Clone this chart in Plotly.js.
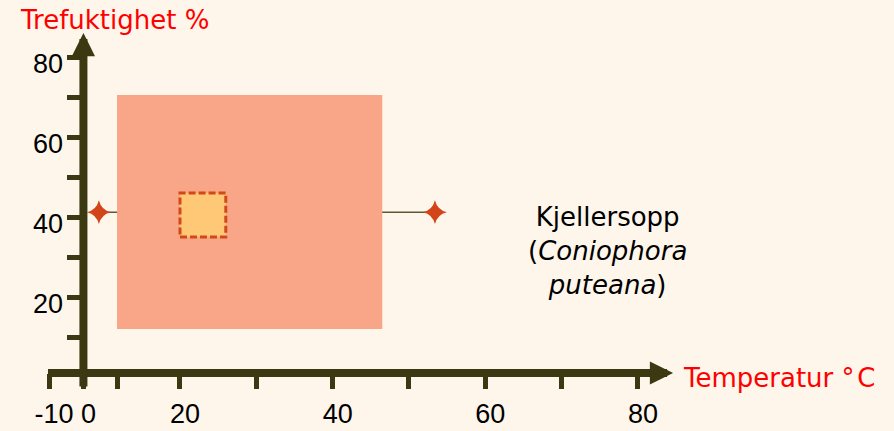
<!DOCTYPE html>
<html>
<head>
<meta charset="utf-8">
<script src="https://cdn.plot.ly/plotly-3.0.1.min.js"></script>
<style>
  html, body { margin: 0; padding: 0; background: #FEF6EB; }
  #chart { width: 894px; height: 431px; }
</style>
</head>
<body>
<div id="chart"></div>
<script>
// ---------- data ----------
const xTickTemps = [-10, 0, 10, 20, 30, 40, 50, 60, 70, 80];
const xTickText  = ['-10', '0', '', '20', '', '40', '', '60', '', '80'];
const yTickVals  = [10, 20, 30, 40, 50, 60, 70, 80];
const yTickText  = ['', '20', '', '40', '', '60', '', '80'];

const growthTemp  = [10, 46.5];   // outer (salmon) area, °C
const growthMoist = [12, 70.5];   // outer area, %
const optimumTemp  = [20, 26];    // inner (dashed) square, °C
const optimumMoist = [35, 46];    // inner square, %
const limitTemp  = [4.6, 53.4];   // star markers, °C
const limitMoist = [41.2, 41.2];  // star markers, %

const speciesLabel = 'Kjellersopp<br>(<i>Coniophora</i><br><i>puteana</i>)';
const xTitle = 'Temperatur °\u200aC';
const yTitle = 'Trefuktighet %';

// ---------- schematic axis scale (the drawing compresses the part below 20 °C) ----------
const xAxisSpots = [2.84, 7.35, 11.75, 20, 30, 40, 50, 60, 70, 80];
function tx(t) {
  const a = xTickTemps, b = xAxisSpots;
  if (t <= a[0]) return b[0] + (t - a[0]) * (b[1] - b[0]) / (a[1] - a[0]);
  for (let i = 0; i < a.length - 1; i++) {
    if (t <= a[i + 1]) return b[i] + (t - a[i]) * (b[i + 1] - b[i]) / (a[i + 1] - a[i]);
  }
  const n = a.length - 1;
  return b[n] + (t - a[n]) * (b[n] - b[n - 1]) / (a[n] - a[n - 1]);
}

// ---------- style ----------
const BG = '#FEF6EB';
const AXIS = '#3B3812';
const RED = '#FF0000';
const STAR = '#D2441A';
const WORD_FONT = 'DejaVu Sans, Verdana, sans-serif';
const NUM_FONT = 'Liberation Sans, Arial, sans-serif';

const X_RANGE = [-3.58, 113.54];
const Y_RANGE = [1.0, 94.25];
const Y_DOMAIN_BOTTOM = 58 / 431;
const X_ARROW_END = 84.6;
const Y_ARROW_END = 86;
const Y_LINE_START = -2.75;

const traces = [{
  type: 'scatter',
  mode: 'markers',
  x: limitTemp.map(tx),
  y: limitMoist,
  marker: { symbol: 'star-diamond', size: 17, color: STAR, line: { width: 0 } },
  hoverinfo: 'skip',
  showlegend: false,
  cliponaxis: false
}];

const shapes = [
  { type: 'line', layer: 'below', xref: 'x', yref: 'y',
    x0: tx(limitTemp[0]), x1: tx(limitTemp[1]), y0: limitMoist[0], y1: limitMoist[1],
    line: { color: '#5A5836', width: 1.5 } },
  { type: 'rect', layer: 'below', xref: 'x', yref: 'y',
    x0: tx(growthTemp[0]), x1: tx(growthTemp[1]), y0: growthMoist[0], y1: growthMoist[1],
    fillcolor: '#F9A588', line: { width: 0 } },
  { type: 'rect', layer: 'below', xref: 'x', yref: 'y',
    x0: tx(optimumTemp[0]), x1: tx(optimumTemp[1]), y0: optimumMoist[0], y1: optimumMoist[1],
    fillcolor: '#FEC876', line: { color: '#D24816', width: 3, dash: '7px,3px' } }
];

const annotations = [
  // x axis line with arrow
  { xref: 'x', yref: 'y', axref: 'x', ayref: 'y',
    x: X_ARROW_END, y: Y_RANGE[0], ax: tx(xTickTemps[0]) - 0.33, ay: Y_RANGE[0],
    text: '', showarrow: true, arrowhead: 2, arrowsize: 0.58, arrowwidth: 8, arrowcolor: AXIS, standoff: 0 },
  // y axis line with arrow
  { xref: 'x', yref: 'y', axref: 'x', ayref: 'y',
    x: tx(0), y: Y_ARROW_END, ax: tx(0), ay: Y_LINE_START,
    text: '', showarrow: true, arrowhead: 2, arrowsize: 0.58, arrowwidth: 8, arrowcolor: AXIS, standoff: 0 },
  { xref: 'paper', yref: 'paper', x: 18 / 894, y: 1 - 20 / 431, xanchor: 'left', yanchor: 'middle',
    text: yTitle, showarrow: false, font: { family: WORD_FONT, size: 26, color: RED } },
  { xref: 'paper', yref: 'paper', x: 681 / 894, y: 1 - 378 / 431, xanchor: 'left', yanchor: 'middle',
    text: xTitle, showarrow: false, font: { family: WORD_FONT, size: 26, color: RED } },
  { xref: 'paper', yref: 'paper', x: 607 / 894, y: 1 - 251 / 431, xanchor: 'center', yanchor: 'middle',
    align: 'center', text: speciesLabel, showarrow: false,
    font: { family: WORD_FONT, size: 26, color: '#000000' } }
];

const layout = {
  width: 894, height: 431,
  margin: { l: 0, r: 0, t: 0, b: 0, pad: 0 },
  paper_bgcolor: BG, plot_bgcolor: BG,
  showlegend: false,
  xaxis: {
    domain: [0, 1], range: X_RANGE, anchor: 'y',
    showgrid: false, zeroline: false, showline: false,
    tickmode: 'array', tickvals: xTickTemps.map(tx), ticktext: xTickText,
    ticks: 'outside', ticklen: 15, tickwidth: 5, tickcolor: AXIS,
    ticklabelshift: 5, ticklabelstandoff: 2,
    tickfont: { family: NUM_FONT, size: 27, color: '#000000' }
  },
  yaxis: {
    domain: [Y_DOMAIN_BOTTOM, 1], range: Y_RANGE, anchor: 'free', position: 83.5 / 894,
    showgrid: false, zeroline: false, showline: false,
    tickmode: 'array', tickvals: yTickVals, ticktext: yTickText,
    ticks: 'outside', ticklen: 17, tickwidth: 5, tickcolor: AXIS,
    ticklabelshift: 7, ticklabelstandoff: -2,
    tickfont: { family: NUM_FONT, size: 27, color: '#000000' }
  },
  shapes: shapes,
  annotations: annotations
};

Plotly.newPlot('chart', traces, layout, { staticPlot: true, displayModeBar: false });
</script>
</body>
</html>
